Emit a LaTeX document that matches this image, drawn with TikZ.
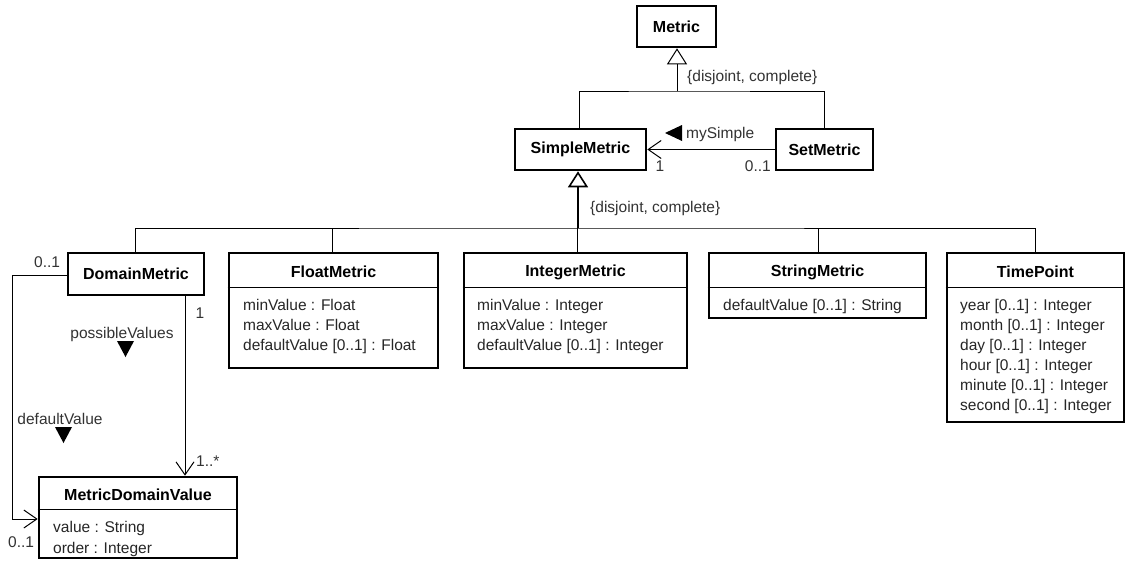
\documentclass[tikz,border=0pt]{standalone}
\usepackage{fontspec}
\setmainfont{Liberation Sans}
\usetikzlibrary{arrows.meta}
\begin{document}
\begin{tikzpicture}[x=1pt,y=-1pt,
  every node/.style={inner sep=0pt, font=\fontsize{15.5}{20}\selectfont, text=black!85},
  classbox/.style={draw, line width=2.6pt, fill=white},
  ctitle/.style={font=\fontsize{16}{20}\selectfont\bfseries, text=black},
  attr/.style={align=left, anchor=north west},
  lbl/.style={font=\fontsize{15.5}{18}\selectfont, text=black!80},
  thinline/.style={line width=1pt},
  sep/.style={line width=0.8pt},
  gen/.style={thinline, -{Triangle[open,length=16pt,width=20pt,fill=white]}},
  genthick/.style={line width=2.4pt, -{Triangle[open,length=16pt,width=20pt,fill=white,line width=1.6pt]}},
  assoc/.style={thinline, -{Straight Barb[length=13pt,width=18pt]}},
  navtri/.style={fill=black}
]
\useasboundingbox (0,0) rectangle (1126,562);
\fill[white] (0,0) rectangle (1126,562);

% ---------- classes ----------
\node[classbox, minimum width=79, minimum height=41, ctitle] (metric) at (676.5,26.5) {Metric};
\node[classbox, minimum width=131, minimum height=41, ctitle] (simplemetric) at (580.5,149.5) {SimpleMetric};
\node[classbox, minimum width=97, minimum height=41, ctitle] (setmetric) at (824.5,149.5) {SetMetric};
\node[classbox, minimum width=136, minimum height=42, ctitle] (domainmetric) at (136,274) {DomainMetric};

% FloatMetric
\node[classbox, minimum width=209, minimum height=115] (floatmetric) at (333.5,310.5) {};
\node[ctitle] (floatmetric-t) at (333.5,272) {FloatMetric};
\draw[sep] (floatmetric.west |- 0,287) -- (floatmetric.east |- 0,287);
\node[attr] (floatmetric-a) at (243,299.5) {minValue : Float\\maxValue : Float\\defaultValue [0..1] : Float};

% IntegerMetric
\node[classbox, minimum width=223, minimum height=115] (integermetric) at (575.5,310.5) {};
\node[ctitle] (integermetric-t) at (575.5,272) {IntegerMetric};
\draw[sep] (integermetric.west |- 0,287) -- (integermetric.east |- 0,287);
\node[attr] (integermetric-a) at (477,299.5) {minValue : Integer\\maxValue : Integer\\defaultValue [0..1] : Integer};

% StringMetric
\node[classbox, minimum width=217, minimum height=65] (stringmetric) at (817.5,285.5) {};
\node[ctitle] (stringmetric-t) at (817.5,272) {StringMetric};
\draw[sep] (stringmetric.west |- 0,287) -- (stringmetric.east |- 0,287);
\node[attr] (stringmetric-a) at (723,299.5) {defaultValue [0..1] : String};

% TimePoint
\node[classbox, minimum width=177, minimum height=169] (timepoint) at (1035.5,337.5) {};
\node[ctitle] (timepoint-t) at (1035.5,272) {TimePoint};
\draw[sep] (timepoint.west |- 0,287) -- (timepoint.east |- 0,287);
\node[attr] (timepoint-a) at (960,299.5) {year [0..1] : Integer\\month [0..1] : Integer\\day [0..1] : Integer\\hour [0..1] : Integer\\minute [0..1] : Integer\\second [0..1] : Integer};

% MetricDomainValue
\node[classbox, minimum width=198, minimum height=81] (mdv) at (138,517.5) {};
\node[ctitle] (mdv-t) at (138,495) {MetricDomainValue};
\draw[sep] (mdv.west |- 0,509) -- (mdv.east |- 0,509);
\node[attr, font=\fontsize{15.5}{21}\selectfont] (mdv-a) at (53,521) {value : String\\order : Integer};

% ---------- generalization Metric ----------
\coordinate (g1) at (677,91);
\draw[thinline] (simplemetric.north -| 579,0) |- (g1) -| (setmetric.north);
\draw[gen] (g1) -- (metric.south -| g1);
\node[lbl, anchor=west] (gs1) at (687,77) {\{disjoint, complete\}};

% ---------- association mySimple ----------
\draw[assoc] (setmetric.west) -- (simplemetric.east);
\fill[navtri] (665,133) -- (682,125) -- (682,141) -- cycle;
\node[lbl, anchor=west] (mysimple) at (686,134) {mySimple};
\node[lbl] (m-1) at (660,166) {1};
\node[lbl, anchor=east] (m-01) at (771,166) {0..1};

% ---------- generalization SimpleMetric ----------
\coordinate (g2) at (578,228);
\draw[genthick] (g2) -- (simplemetric.south -| g2);
\node[lbl, anchor=west] (gs2) at (590,208) {\{disjoint, complete\}};
\draw[thinline] (domainmetric.north -| 135,0) |- (g2) -| (timepoint.north);
\draw[thinline] (floatmetric.north -| 332,0) -- (332,228);
\draw[thinline] (integermetric.north -| 577,0) -- (577,228);
\draw[thinline] (stringmetric.north -| 818,0) -- (818,228);

% ---------- possibleValues ----------
\coordinate (pv) at (185,0);
\draw[assoc] (domainmetric.south -| pv) -- (mdv.north -| pv);
\node[lbl] (pv-l) at (122,334) {possibleValues};
\fill[navtri] (117,341) -- (134,341) -- (125.5,357) -- cycle;
\node[lbl] (pv-1) at (200,313) {1};
\node[lbl, anchor=west] (pv-1s) at (196,461) {1..*};

% ---------- defaultValue ----------
\coordinate (dvt) at (12,275);
\coordinate (dvb) at (12,519);
\draw[assoc] (domainmetric.west |- dvt) -- (dvt) -- (dvb) -- (mdv.west |- dvb);
\node[lbl] (dv-l) at (60,419) {defaultValue};
\fill[navtri] (55,427) -- (72,427) -- (63.5,443) -- cycle;
\node[lbl, anchor=west] (dv-01t) at (34,262) {0..1};
\node[lbl, anchor=west] (dv-01b) at (8,542) {0..1};
\end{tikzpicture}
\end{document}
